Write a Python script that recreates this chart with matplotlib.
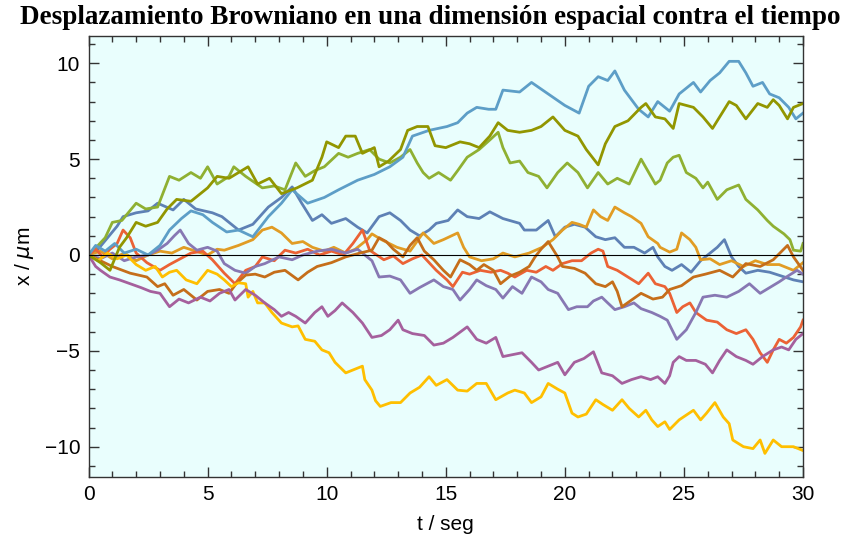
import numpy as np
import matplotlib
matplotlib.use("Agg")
import matplotlib.pyplot as plt
from matplotlib.ticker import MultipleLocator

# (t, x) points, one list per trajectory
blue = [(0, 0), (0.4, 0.3), (0.8, 0.9), (1.2, 1.5), (1.45, 2.0), (2.0, 2.2), (2.5, 2.3), (2.9, 2.7),
        (3.55, 2.35), (4.0, 2.9), (4.5, 2.4), (5.2, 2.2), (5.6, 2.0), (5.9, 1.7), (6.3, 1.3), (6.9, 1.6),
        (7.55, 2.5), (8.1, 3.0), (8.55, 3.55), (8.95, 2.7), (9.4, 1.8), (9.8, 2.1), (10.2, 1.65), (10.8, 1.9),
        (11.3, 1.45), (11.7, 1.15), (12.2, 2.0), (12.65, 2.2), (13.1, 1.8), (13.5, 1.3), (13.9, 1.0),
        (14.3, 1.3), (14.6, 1.65), (15.1, 1.8), (15.5, 2.35), (15.9, 2.0), (16.4, 1.9), (16.85, 2.25),
        (17.4, 1.9), (18.1, 1.65), (18.3, 1.3), (18.8, 1.3), (19.3, 1.8), (19.6, 0.95), (20.0, 1.45),
        (20.4, 1.6), (20.85, 1.45), (21.3, 0.95), (21.7, 0.8), (22.1, 0.9), (22.5, 0.4), (22.9, 0.4),
        (23.35, 0.1), (23.7, 0.4), (23.9, -0.1), (24.2, -0.6), (24.5, -0.8), (24.9, -0.5), (25.3, -0.9),
        (25.7, -0.3), (26.1, 0.1), (26.4, 0.4), (26.7, 0.8), (27.0, -0.1), (27.3, -0.6), (27.6, -0.95),
        (28.1, -0.8), (28.6, -0.9), (29.1, -1.1), (29.6, -1.3), (30.0, -1.4)]

orange = [(0, 0), (0.5, 0.2), (1.0, -0.2), (1.5, 0.1), (2.0, -0.3), (2.5, 0.0), (3.0, 0.2), (3.5, 0.1),
          (4.0, 0.4), (4.5, 0.2), (5.0, 0.0), (5.4, 0.3), (5.7, 0.25), (6.3, 0.5), (6.9, 0.8), (7.3, 1.3),
          (7.7, 1.45), (8.1, 1.15), (8.55, 0.6), (9.0, 0.7), (9.4, 0.4), (9.9, 0.2), (10.3, 0.4), (10.8, 0.1),
          (11.2, 0.3), (11.7, 0.8), (11.9, 1.1), (12.3, 0.8), (12.95, 0.4), (13.5, 0.2), (14.05, 1.15),
          (14.5, 0.6), (14.9, 0.8), (15.5, 1.15), (15.75, 0.4), (16.0, -0.1), (16.5, -0.3), (17.0, -0.2),
          (17.4, 0.1), (17.9, -0.1), (18.5, 0.1), (19.05, 0.4), (19.5, 0.8), (19.9, 1.3), (20.3, 1.7),
          (20.6, 1.6), (20.9, 1.45), (21.2, 2.35), (21.5, 2.0), (21.8, 1.8), (22.1, 2.5), (22.5, 2.2),
          (22.8, 2.0), (23.2, 1.65), (23.5, 0.95), (23.9, 0.6), (24.0, 0.4), (24.4, 0.15), (24.7, 0.3),
          (24.9, 1.15), (25.25, 0.8), (25.5, 0.4), (25.7, -0.25), (26.1, -0.2), (26.5, -0.5), (27.0, -0.3),
          (27.5, -0.6), (28.0, -0.3), (28.5, -0.5), (29.0, -0.5), (29.6, -0.8), (30.0, -0.4)]

green = [(0, 0), (0.4, 0.5), (0.7, 0.9), (1.0, 1.7), (1.4, 1.8), (2.0, 2.7), (2.4, 2.4), (2.9, 2.5),
         (3.4, 4.1), (3.8, 3.9), (4.3, 4.3), (4.7, 4.0), (5.0, 4.6), (5.4, 3.7), (5.9, 4.1), (6.1, 4.6),
         (6.6, 4.1), (7.3, 3.5), (7.8, 3.6), (8.25, 3.4), (8.7, 4.8), (9.1, 4.1), (9.5, 4.4), (9.9, 4.6),
         (10.5, 5.3), (10.9, 5.1), (11.3, 5.3), (11.8, 5.5), (12.2, 5.0), (12.65, 4.8), (13.1, 5.1),
         (13.5, 5.5), (13.8, 4.8), (14.05, 4.3), (14.3, 4.0), (14.7, 4.3), (15.2, 3.9), (15.5, 4.4),
         (15.9, 5.1), (16.4, 5.5), (16.85, 6.0), (17.2, 6.4), (17.4, 5.6), (17.7, 4.8), (18.1, 4.9),
         (18.45, 4.3), (18.9, 4.1), (19.25, 3.5), (19.7, 4.3), (20.1, 4.8), (20.55, 4.3), (20.95, 3.5),
         (21.4, 4.3), (21.8, 3.7), (22.2, 4.0), (22.7, 3.7), (23.2, 5.0), (23.8, 3.7), (24.0, 3.9),
         (24.3, 4.8), (24.55, 5.1), (24.8, 5.2), (25.1, 4.3), (25.5, 4.0), (25.8, 3.5), (26.0, 3.8),
         (26.4, 2.9), (26.8, 3.4), (27.3, 3.65), (27.6, 2.9), (28.1, 2.35), (28.5, 1.8), (28.75, 1.5),
         (29.2, 1.1), (29.45, 0.8), (29.6, 0.25), (29.9, 0.2), (30.0, 0.6)]

red = [(0, 0), (0.3, 0.3), (0.6, -0.1), (0.9, 0.3), (1.2, 0.6), (1.45, 1.3), (1.75, 0.9), (2.0, 0.1),
       (2.45, -0.4), (3.0, -0.8), (3.4, -0.5), (3.85, -0.2), (4.3, 0.1), (4.8, 0.2), (5.2, -0.25),
       (5.7, -0.95), (6.15, -1.5), (6.6, -0.8), (7.0, -0.6), (7.3, -0.1), (7.8, -0.3), (8.25, 0.25),
       (8.7, 0.1), (9.2, 0.3), (9.7, 0.0), (10.2, 0.2), (10.7, 0.0), (11.1, 0.6), (11.5, 1.3), (11.8, 0.25),
       (12.4, -0.25), (12.8, -0.05), (13.2, -0.45), (13.6, -0.2), (14.0, 0.0), (14.6, -0.8), (15.05, -1.3),
       (15.3, -1.65), (15.7, -0.9), (16.0, -1.0), (16.45, -0.8), (16.9, -0.9), (17.3, -0.8), (17.6, -0.95),
       (17.9, -1.15), (18.4, -0.8), (18.8, -0.9), (19.2, -0.6), (19.5, -0.8), (19.9, -0.45), (20.3, -0.3),
       (20.7, -0.3), (21.1, 0.1), (21.4, 0.3), (21.6, 0.2), (21.8, -0.6), (22.2, -0.8), (22.65, -1.15),
       (23.1, -1.5), (23.5, -0.95), (23.8, -1.5), (24.2, -1.65), (24.4, -2.0), (24.7, -3.0), (24.95, -2.7),
       (25.25, -2.5), (25.5, -3.0), (25.95, -3.4), (26.4, -3.5), (26.8, -3.9), (27.2, -4.1), (27.6, -3.9),
       (27.9, -4.4), (28.2, -5.1), (28.5, -5.6), (28.75, -4.95), (29.0, -4.4), (29.3, -4.6), (29.6, -4.3),
       (29.9, -3.75), (30.0, -3.4)]

purple = [(0, 0), (0.5, -0.2), (1.0, 0.1), (1.5, -0.3), (2.0, -0.1), (2.5, 0.0), (2.9, 0.25), (3.3, 0.6),
          (3.6, 1.0), (3.85, 1.3), (4.2, 0.6), (4.55, 0.25), (5.0, 0.4), (5.4, 0.2), (5.7, -0.45),
          (6.15, -0.8), (6.6, -0.95), (7.0, -0.6), (7.4, -0.45), (8.0, -0.1), (8.55, -0.25), (9.0, 0.0),
          (9.6, 0.2), (10.2, 0.3), (10.8, 0.1), (11.3, 0.3), (11.7, -0.1), (11.9, -0.3), (12.2, -1.15),
          (12.65, -1.1), (13.1, -1.3), (13.5, -2.0), (13.9, -1.7), (14.5, -1.3), (14.9, -1.65), (15.3, -1.8),
          (15.6, -2.35), (16.0, -1.8), (16.3, -1.3), (16.7, -1.6), (17.1, -1.8), (17.4, -2.25), (17.8, -1.65),
          (18.2, -2.0), (18.6, -1.15), (19.0, -1.4), (19.3, -1.8), (19.7, -2.0), (20.15, -2.85), (20.5, -2.7),
          (20.95, -2.7), (21.2, -2.4), (21.55, -2.2), (21.8, -2.5), (22.1, -2.85), (22.5, -2.7), (22.9, -2.5),
          (23.2, -2.8), (23.65, -3.0), (24.0, -3.2), (24.3, -3.4), (24.7, -4.4), (25.1, -3.9), (25.5, -3.0),
          (25.8, -2.2), (26.3, -2.1), (26.8, -2.2), (27.3, -1.9), (27.75, -1.5), (28.2, -2.0), (28.6, -1.7),
          (29.0, -1.4), (29.3, -1.15), (29.75, -0.8), (30.0, -1.0)]

brown = [(0, 0), (0.5, -0.3), (1.0, -0.6), (1.75, -0.95), (2.45, -1.15), (2.9, -1.65), (3.2, -1.5),
         (3.55, -2.1), (4.0, -1.8), (4.55, -2.35), (5.0, -1.9), (5.5, -1.8), (5.9, -2.0), (6.2, -1.5),
         (6.6, -1.05), (7.0, -1.0), (7.4, -1.15), (7.8, -0.9), (8.25, -0.8), (8.8, -1.3), (9.2, -0.9),
         (9.6, -0.6), (10.2, -0.4), (10.8, -0.1), (11.4, 0.1), (11.9, 0.25), (12.2, 0.9), (12.5, 0.7),
         (12.8, 0.3), (13.2, -0.1), (13.5, 0.5), (13.8, 0.9), (14.1, 0.2), (14.5, -0.25), (14.9, -0.8),
         (15.2, -1.15), (15.6, -0.25), (16.0, -0.5), (16.3, -0.8), (16.6, -0.5), (17.0, -0.8), (17.3, -1.5),
         (17.7, -1.1), (18.1, -0.9), (18.5, -0.6), (18.75, -0.1), (19.0, 0.3), (19.3, 0.7), (19.7, -0.1),
         (19.9, -0.6), (20.4, -0.7), (20.85, -0.95), (21.3, -1.5), (21.7, -1.65), (22.0, -1.4), (22.2, -1.9),
         (22.4, -2.7), (22.8, -2.35), (23.2, -2.0), (23.7, -2.3), (24.1, -2.2), (24.4, -1.8), (24.9, -1.6),
         (25.4, -1.15), (25.9, -1.0), (26.5, -0.8), (27.05, -1.15), (27.6, -0.45), (28.2, -0.6),
         (28.75, -0.25), (29.15, 0.25), (29.35, 0.5), (29.6, -0.1), (30.0, -0.8)]

light_blue = [(0, 0), (0.3, 0.5), (0.7, 0.2), (1.1, 0.6), (1.5, 0.1), (2.0, 0.3), (2.5, 0.0), (3.0, 0.5),
              (3.4, 1.3), (3.9, 1.9), (4.3, 2.3), (4.8, 2.1), (5.2, 1.7), (5.8, 1.2), (6.3, 1.3), (6.9, 0.95),
              (7.55, 2.0), (8.1, 2.7), (8.55, 3.4), (9.2, 2.7), (9.9, 3.0), (10.5, 3.4), (11.3, 3.9),
              (12.0, 4.2), (12.65, 4.6), (13.2, 5.1), (13.6, 6.2), (14.3, 6.5), (15.05, 6.7), (15.5, 6.9),
              (15.9, 7.4), (16.3, 7.7), (16.8, 7.6), (17.1, 7.6), (17.4, 8.6), (18.1, 8.5), (18.6, 9.0),
              (19.3, 8.4), (20.0, 7.8), (20.6, 7.4), (21.0, 8.8), (21.4, 9.3), (21.8, 9.1), (22.1, 9.6),
              (22.5, 8.6), (23.1, 7.6), (23.5, 7.2), (23.9, 8.0), (24.4, 7.5), (24.8, 8.4), (25.4, 9.0),
              (25.7, 8.5), (26.1, 9.1), (26.5, 9.5), (26.9, 10.1), (27.3, 10.1), (27.6, 9.5), (27.9, 8.8),
              (28.3, 9.0), (28.6, 8.4), (29.0, 8.2), (29.4, 7.7), (29.7, 7.1), (30.0, 7.4)]

yellow = [(0, 0), (0.4, -0.3), (0.8, 0.1), (1.2, -0.2), (1.6, 0.0), (2.0, -0.5), (2.4, -0.8), (2.8, -0.6),
          (3.1, -1.15), (3.4, -0.9), (3.7, -0.8), (4.1, -1.3), (4.55, -1.5), (5.0, -0.8), (5.4, -1.0),
          (5.7, -1.3), (6.0, -1.65), (6.3, -1.45), (6.6, -1.5), (6.7, -2.2), (6.9, -1.9), (7.1, -2.5),
          (7.4, -2.5), (7.7, -3.0), (8.1, -3.55), (8.55, -3.75), (8.8, -3.7), (9.1, -4.4), (9.5, -4.5),
          (9.8, -4.95), (10.1, -5.1), (10.35, -5.6), (10.8, -6.15), (11.1, -6.0), (11.5, -5.8), (11.6, -6.5),
          (11.9, -7.05), (12.05, -7.6), (12.25, -7.9), (12.7, -7.7), (13.1, -7.7), (13.5, -7.2), (13.9, -6.9),
          (14.3, -6.35), (14.6, -6.8), (15.05, -6.5), (15.5, -7.05), (15.9, -7.1), (16.3, -6.7), (16.7, -6.7),
          (17.1, -7.55), (17.6, -7.2), (17.9, -7.05), (18.3, -7.2), (18.6, -7.7), (19.0, -7.4), (19.3, -6.7),
          (19.7, -7.0), (20.0, -7.2), (20.3, -8.25), (20.55, -8.45), (20.9, -8.3), (21.3, -7.55), (21.6, -7.8),
          (22.0, -8.1), (22.4, -7.55), (22.7, -8.0), (23.1, -8.45), (23.4, -8.1), (23.65, -8.6), (23.9, -8.95),
          (24.2, -8.7), (24.4, -9.1), (24.8, -8.6), (25.4, -8.1), (25.7, -8.6), (25.95, -8.25), (26.3, -7.7),
          (26.65, -8.45), (26.9, -8.8), (27.05, -9.65), (27.5, -10.0), (27.9, -10.1), (28.2, -9.65),
          (28.4, -10.35), (28.75, -9.65), (29.1, -10.0), (29.6, -10.0), (30.0, -10.2)]

magenta = [(0, 0), (0.3, -0.6), (0.5, -0.8), (0.9, -1.15), (1.3, -1.3), (1.75, -1.5), (2.2, -1.7), (2.6, -1.9),
           (3.0, -2.0), (3.4, -2.7), (3.8, -2.3), (4.2, -2.5), (4.7, -2.2), (5.1, -2.4), (5.5, -2.0), (5.9, -1.8),
           (6.15, -2.35), (6.6, -1.8), (7.0, -2.1), (7.4, -2.5), (7.8, -2.85), (8.1, -3.2), (8.4, -3.0),
           (8.7, -3.2), (9.1, -3.55), (9.5, -3.0), (9.8, -2.7), (10.05, -3.2), (10.35, -2.9), (10.65, -2.5),
           (11.1, -3.0), (11.5, -3.55), (11.9, -4.3), (12.3, -4.2), (12.65, -3.9), (13.0, -3.4), (13.2, -3.9),
           (13.6, -4.1), (14.1, -4.2), (14.5, -4.7), (14.9, -4.6), (15.3, -4.3), (15.9, -3.75), (16.3, -4.4),
           (16.7, -4.6), (17.1, -4.3), (17.4, -5.3), (17.8, -5.2), (18.2, -5.1), (18.6, -5.6), (18.9, -6.0),
           (19.3, -5.8), (19.7, -5.6), (20.0, -6.25), (20.4, -5.6), (20.8, -5.4), (21.2, -5.05), (21.55, -6.15),
           (22.0, -6.3), (22.4, -6.7), (22.8, -6.5), (23.2, -6.35), (23.6, -6.5), (23.9, -6.35), (24.2, -6.7),
           (24.4, -6.3), (24.55, -5.6), (24.8, -5.3), (25.1, -5.5), (25.5, -5.5), (25.9, -5.7), (26.2, -6.15),
           (26.5, -5.5), (26.8, -4.95), (27.2, -5.3), (27.6, -5.5), (27.9, -5.7), (28.3, -5.3), (28.75, -4.95),
           (29.1, -4.8), (29.4, -4.95), (29.7, -4.4), (30.0, -4.1)]

olive = [(0, 0), (0.5, -0.4), (0.9, -0.8), (1.3, 0.4), (1.6, 0.9), (2.0, 1.7), (2.4, 1.5), (2.9, 1.7),
         (3.3, 2.4), (3.7, 2.9), (4.3, 2.8), (5.0, 3.5), (5.4, 4.1), (5.9, 4.0), (6.3, 4.3), (6.7, 4.6),
         (7.1, 3.7), (7.6, 4.0), (8.1, 3.2), (8.75, 3.5), (9.4, 3.9), (9.8, 5.1), (10.0, 5.9), (10.5, 5.6),
         (10.8, 6.2), (11.2, 6.2), (11.5, 5.3), (12.0, 5.6), (12.2, 4.6), (12.6, 4.9), (13.1, 5.5), (13.4, 6.5),
         (13.8, 6.7), (14.25, 6.7), (14.55, 5.7), (15.0, 5.6), (15.6, 5.9), (16.0, 5.8), (16.4, 5.6),
         (16.85, 6.2), (17.2, 6.9), (17.6, 6.5), (18.1, 6.4), (18.6, 6.5), (19.0, 6.7), (19.5, 7.2), (20.0, 6.5),
         (20.55, 6.2), (20.9, 5.5), (21.4, 4.7), (21.7, 5.8), (22.1, 6.7), (22.65, 7.0), (23.2, 7.7),
         (23.4, 7.9), (23.8, 7.2), (24.2, 7.1), (24.55, 6.6), (24.8, 7.9), (25.4, 7.7), (25.8, 7.2),
         (26.2, 6.6), (26.5, 7.2), (26.9, 8.0), (27.2, 7.8), (27.6, 7.1), (28.1, 7.9), (28.5, 7.7),
         (28.75, 8.1), (29.0, 7.8), (29.35, 7.1), (29.6, 7.7), (30.0, 7.9)]

series = [blue, orange, green, red, purple, brown, light_blue, yellow, magenta, olive]
colors = ["#5E81B5", "#E19C24", "#8FB032", "#EB6235", "#8778B3",
          "#C56E1A", "#5D9EC7", "#FFBF00", "#A5609D", "#929600"]

fig = plt.figure(figsize=(8.57, 5.46), dpi=100)
ax = fig.add_axes([0.1033, 0.1264, 0.8337, 0.8076])
ax.set_facecolor("#E9FEFD")

for pts, c in zip(series, colors):
    arr = np.array(pts)
    ax.plot(arr[:, 0], arr[:, 1], color=c, lw=2.0, solid_joinstyle="round")

ax.axhline(0, color="black", lw=0.8, zorder=5)

ax.set_xlim(0, 30)
ax.set_ylim(-11.58, 11.42)
ax.xaxis.set_major_locator(MultipleLocator(5))
ax.xaxis.set_minor_locator(MultipleLocator(1))
ax.yaxis.set_major_locator(MultipleLocator(5))
ax.yaxis.set_minor_locator(MultipleLocator(1))
ax.set_yticks([-10, -5, 0, 5, 10])
ax.set_yticklabels(["\u221210", "\u22125", "0", "5", "10"])

frame = "#333333"
for s in ax.spines.values():
    s.set_color(frame)
    s.set_linewidth(1.0)
ax.tick_params(which="both", direction="in", top=True, right=True, color=frame, width=1.0)
ax.tick_params(which="major", length=7, labelsize=15, pad=6)
ax.tick_params(which="minor", length=4)
for lab in ax.get_xticklabels() + ax.get_yticklabels():
    lab.set_family("Liberation Sans")

ax.set_xlabel("t / seg", fontsize=15, family="Liberation Sans", labelpad=8)
ax.set_ylabel(r"x / $\mu$m", fontsize=15, family="Liberation Sans", labelpad=6)
fig.suptitle("Desplazamiento Browniano en una dimensión espacial contra el tiempo",
             x=0.502, y=0.99, fontsize=19.5, fontweight="bold", family="Liberation Serif")

fig.savefig("out.png", dpi=100)
